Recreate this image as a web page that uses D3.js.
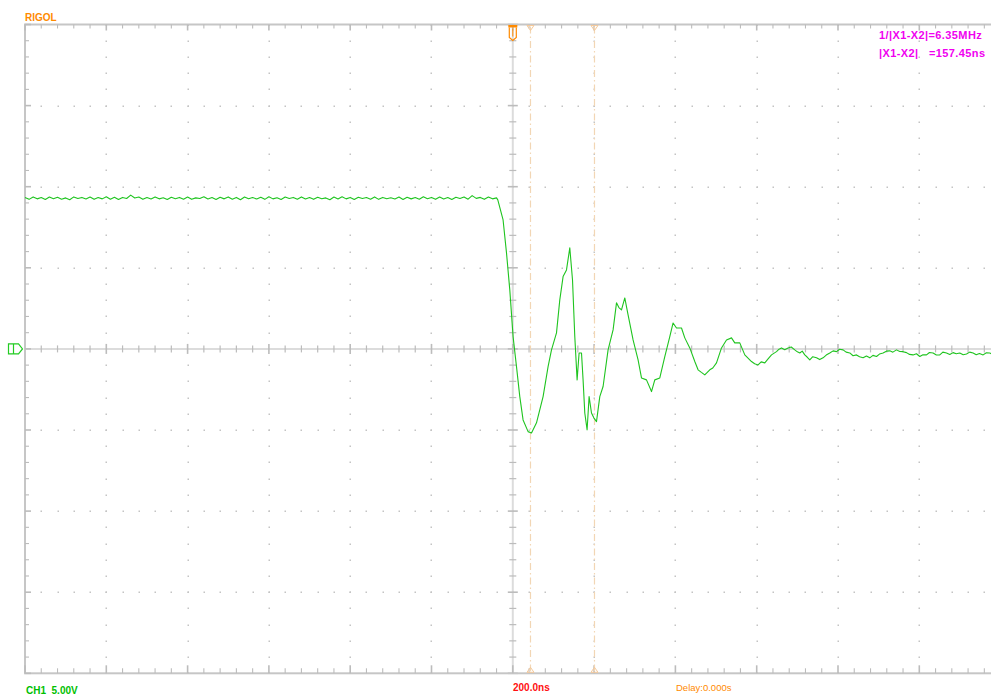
<!DOCTYPE html>
<html>
<head>
<meta charset="utf-8">
<script src="https://cdn.jsdelivr.net/npm/d3@7"></script>
<style>
  html, body { margin: 0; padding: 0; background: #fff; }
  svg { display: block; }
  text { font-family: "Liberation Sans", Arial, sans-serif; }
</style>
</head>
<body>
<svg id="scope" width="991" height="695"></svg>
<script>
// Screen settings: 200 ns/div horizontally, 5 V/div vertically
const timePerDivNs = 200;
const voltsPerDiv = 5;
const hDivs = 12;
const vDivs = 8;

// Cursor positions (ns) and readouts
const cursorX1Ns = 43.5;
const cursorDeltaNs = 157.45;
const cursorX2Ns = cursorX1Ns + cursorDeltaNs;
const readoutLabels = ["1/|X1-X2|=6.35MHz", "|X1-X2|   =157.45ns"];
const statusLabels = { channel: "CH1  5.00V", timebase: "200.0ns", delay: "Delay:0.000s", brand: "RIGOL" };

// CH1 trace, pre-trigger plateau: one sample every 10 ns starting at -1200 ns
const plateauStartNs = -1200;
const plateauStepNs = 10;
const plateauVolts = [
  9.34,9.22,9.37,9.25,9.33,9.21,9.36,9.26,9.35,9.23,
  9.31,9.20,9.37,9.27,9.34,9.24,9.36,9.22,9.33,9.25,
  9.38,9.23,9.35,9.21,9.34,9.27,9.48,9.30,9.36,9.22,
  9.33,9.24,9.37,9.25,9.32,9.21,9.35,9.26,9.34,9.23,
  9.36,9.22,9.31,9.27,9.38,9.24,9.33,9.21,9.35,9.25,
  9.37,9.23,9.34,9.20,9.36,9.26,9.33,9.24,9.35,9.22,
  9.38,9.25,9.32,9.21,9.36,9.27,9.34,9.23,9.37,9.24,
  9.33,9.22,9.35,9.26,9.31,9.20,9.36,9.24,9.38,9.25,
  9.34,9.21,9.35,9.27,9.33,9.23,9.37,9.22,9.34,9.26,
  9.32,9.24,9.36,9.21,9.35,9.25,9.33,9.23,9.38,9.26,
  9.34,9.22,9.36,9.24,9.33,9.21,9.35,9.27,9.37,9.23,
  9.45,9.28,9.34,9.22,9.36,9.25,9.31
];

// CH1 trace after the falling edge: times (ns) and volts
const ringTimesNs = [
  -36.9,-23.9,-15.5,-7.4,0.7,9.1,17.2,25.3,37.6,46.0,
  58.3,74.5,86.8,95.2,107.5,115.6,123.7,132.1,140.2,146.9,
  152.5,158.2,163.1,169.0,172.9,177.1,182.8,187.7,193.6,199.3,
  205.9,214.0,222.1,234.4,246.7,255.1,261.0,267.4,275.5,283.6,
  295.9,308.2,316.6,328.9,341.2,349.3,361.6,373.9,386.2,394.3,
  402.7,415.0,423.1,435.4,447.7,455.8,464.0,472.3,484.6,492.0,
  501.1,513.4,525.7,538.0,546.1,558.4,570.7,587.2,595.0,603.4,
  611.0,619.9,628.0,636.4,648.7,655.0,661.0,669.0,677.2,685.0,
  693.7,700.0,706.0,712.0,718.3,724.0,730.6,738.0,747.1,755.0,
  763.3,771.0,779.8,788.0,796.3,804.0,812.5,820.0,829.0,837.0,
  845.5,853.0,861.7,870.0,878.2,886.0,894.7,902.0,910.9,919.0,
  927.4,935.0,943.9,952.0,960.1,968.5,976.0,984.7,993.0,1001.2,
  1009.0,1017.7,1025.0,1033.9,1042.0,1050.4,1058.0,1066.9,1075.0,1083.1,
  1091.0,1099.6,1108.0,1116.1,1124.0,1132.4,1140.0,1148.0,1157.0,1165.0,
  1173.4,1181.0,1190.0,1200.0
];
const ringVolts = [
  9.19,7.95,5.92,3.64,0.76,-1.09,-2.94,-4.38,-5.10,-5.18,
  -4.56,-2.94,-1.09,-0.06,0.99,3.02,4.46,4.87,6.23,4.25,
  0.76,-1.91,-0.25,-0.25,-1.91,-3.95,-4.99,-2.94,-3.95,-4.25,
  -4.48,-2.94,-2.32,-0.06,1.17,2.84,2.55,2.40,3.14,2.10,
  0.55,-0.68,-1.79,-1.91,-2.63,-1.91,-1.79,-0.47,0.76,1.60,
  1.29,1.29,0.68,0.06,-0.78,-1.29,-1.45,-1.60,-1.29,-1.18,
  -0.86,0.06,0.55,0.68,0.37,0.37,-0.37,-0.78,-0.92,-0.99,
  -0.80,-0.86,-0.62,-0.37,-0.17,-0.02,0.06,-0.05,0.06,0.12,
  -0.06,-0.18,-0.25,-0.14,-0.37,-0.50,-0.68,-0.48,-0.55,-0.66,
  -0.55,-0.38,-0.25,-0.12,-0.17,-0.02,-0.06,-0.20,-0.25,-0.42,
  -0.37,-0.48,-0.55,-0.44,-0.55,-0.40,-0.47,-0.32,-0.25,-0.14,
  -0.12,-0.20,-0.06,-0.16,-0.17,-0.23,-0.34,-0.37,-0.30,-0.47,
  -0.36,-0.37,-0.22,-0.25,-0.38,-0.37,-0.20,-0.25,-0.34,-0.23,
  -0.30,-0.25,-0.36,-0.31,-0.20,-0.25,-0.36,-0.28,-0.37,-0.24,
  -0.25,-0.34,-0.27,-0.30
];

// Colours
const colBorder = "#c6c6c6";
const colGridDot = "#c4c4c4";
const colCenter = "#dcdcdc";
const colTick = "#bcbcbc";
const colTrace = "#1fc41f";
const colCursor = "#f2d6b4";
const colOrange = "#ff8a00";
const colMagenta = "#f000f0";

const svg = d3.select("#scope");
svg.append("rect").attr("width", 991).attr("height", 695).attr("fill", "#fff");

const x = d3.scaleLinear()
  .domain([-timePerDivNs * hDivs / 2, timePerDivNs * hDivs / 2])
  .range([25, 25 + 81.3 * hDivs]);
const y = d3.scaleLinear()
  .domain([-voltsPerDiv * vDivs / 2, voltsPerDiv * vDivs / 2])
  .range([673.3, 24.5]);

const [t0, t1] = x.domain();
const [v0, v1] = y.domain();
const minorT = d3.range(t0, t1 + 1e-6, timePerDivNs / 5);
const minorV = d3.range(v0, v1 + 1e-6, voltsPerDiv / 5);
const majorT = d3.range(t0 + timePerDivNs, t1 - 1e-6, timePerDivNs);
const majorV = d3.range(v0 + voltsPerDiv, v1 - 1e-6, voltsPerDiv);
const isMajorT = t => Math.abs(Math.round(t / timePerDivNs) * timePerDivNs - t) < 1e-6;
const isMajorV = v => Math.abs(Math.round(v / voltsPerDiv) * voltsPerDiv - v) < 1e-6;

// Dotted graticule: dots along every major line at each minor step
const grid = svg.append("g");
majorT.filter(t => t !== 0).forEach(t => {
  minorV.forEach(v => {
    grid.append("rect").attr("x", Math.round(x(t)) - 0.5).attr("y", Math.round(y(v)) - 0.5)
      .attr("width", 1.5).attr("height", 1.5).attr("fill", colGridDot);
  });
});
majorV.filter(v => v !== 0).forEach(v => {
  minorT.forEach(t => {
    grid.append("rect").attr("x", Math.round(x(t)) - 0.5).attr("y", Math.round(y(v)) - 0.5)
      .attr("width", 1.5).attr("height", 1.5).attr("fill", colGridDot);
  });
});

// Centre axes with minor tick marks
const axes = svg.append("g");
axes.append("line").attr("x1", x(t0)).attr("x2", x(t1)).attr("y1", y(0)).attr("y2", y(0))
  .attr("stroke", colCenter).attr("stroke-width", 2);
axes.append("line").attr("x1", x(0)).attr("x2", x(0)).attr("y1", y(v1)).attr("y2", y(v0))
  .attr("stroke", colCenter).attr("stroke-width", 2);
minorT.forEach(t => {
  const h = isMajorT(t) ? 5 : 3.5;
  axes.append("line").attr("x1", x(t)).attr("x2", x(t)).attr("y1", y(0) - h).attr("y2", y(0) + h)
    .attr("stroke", colTick).attr("stroke-width", isMajorT(t) ? 1.6 : 1.2);
});
minorV.forEach(v => {
  const h = isMajorV(v) ? 5 : 3.5;
  axes.append("line").attr("x1", x(0) - h).attr("x2", x(0) + h).attr("y1", y(v)).attr("y2", y(v))
    .attr("stroke", colTick).attr("stroke-width", isMajorV(v) ? 1.6 : 1.2);
});

// Frame with edge ticks
const frame = svg.append("g");
frame.append("rect").attr("x", x(t0)).attr("y", y(v1)).attr("width", x(t1) - x(t0)).attr("height", y(v0) - y(v1))
  .attr("fill", "none").attr("stroke", colBorder).attr("stroke-width", 2);
minorT.forEach(t => {
  const maj = isMajorT(t);
  frame.append("line").attr("x1", x(t)).attr("x2", x(t)).attr("y1", y(v1)).attr("y2", y(v1) + (maj ? 6 : 4))
    .attr("stroke", colTick).attr("stroke-width", maj ? 1.6 : 1.1);
  frame.append("line").attr("x1", x(t)).attr("x2", x(t)).attr("y1", y(v0)).attr("y2", y(v0) - (maj ? 8 : 5))
    .attr("stroke", colTick).attr("stroke-width", maj ? 1.6 : 1.1);
});
minorV.forEach(v => {
  const maj = isMajorV(v);
  frame.append("line").attr("x1", x(t0)).attr("x2", x(t0) + (maj ? 6 : 4)).attr("y1", y(v)).attr("y2", y(v))
    .attr("stroke", colTick).attr("stroke-width", maj ? 1.6 : 1.1);
});

// Cursors: dash-dot verticals with small triangle markers
const cursors = svg.append("g");
[cursorX1Ns, cursorX2Ns].forEach(t => {
  const cx = x(t);
  cursors.append("line").attr("x1", cx).attr("x2", cx).attr("y1", y(v1) + 2).attr("y2", y(v0) - 2)
    .attr("stroke", colCursor).attr("stroke-width", 1.2).attr("stroke-dasharray", "7,3,1.5,3");
  cursors.append("path").attr("d", `M${cx - 3.5},${y(v1) + 1}L${cx + 3.5},${y(v1) + 1}L${cx},${y(v1) + 6}Z`)
    .attr("fill", "none").attr("stroke", "#f5c99a").attr("stroke-width", 1);
  cursors.append("path").attr("d", `M${cx - 3.5},${y(v0) - 1}L${cx + 3.5},${y(v0) - 1}L${cx},${y(v0) - 6}Z`)
    .attr("fill", "none").attr("stroke", "#f5c99a").attr("stroke-width", 1);
});

// CH1 trace
const samples = plateauVolts.map((v, i) => [plateauStartNs + i * plateauStepNs, v])
  .concat(ringTimesNs.map((t, i) => [t, ringVolts[i]]));
svg.append("path").datum(samples)
  .attr("d", d3.line().x(d => x(d[0])).y(d => y(d[1])))
  .attr("fill", "none").attr("stroke", colTrace).attr("stroke-width", 1.1)
  .attr("stroke-linejoin", "round");

// Trigger position marker at the top
const tx = x(0);
const trig = svg.append("g");
trig.append("rect").attr("x", tx - 4.5).attr("y", y(v1) + 0.5).attr("width", 9).attr("height", 2.5).attr("fill", colOrange);
trig.append("path").attr("d", `M${tx - 3.5},${y(v1) + 3}V${y(v1) + 13}L${tx},${y(v1) + 16}L${tx + 3.5},${y(v1) + 13}V${y(v1) + 3}`)
  .attr("fill", "none").attr("stroke", colOrange).attr("stroke-width", 1.2);
trig.append("line").attr("x1", tx).attr("x2", tx).attr("y1", y(v1) + 4).attr("y2", y(v1) + 12)
  .attr("stroke", colOrange).attr("stroke-width", 1);

// Channel 1 ground reference marker on the left
const gy = y(0);
const gnd = svg.append("g");
gnd.append("path").attr("d", `M8.5,${gy - 5}H18.5L22.5,${gy}L18.5,${gy + 5}H8.5Z`)
  .attr("fill", "none").attr("stroke", "#22cc22").attr("stroke-width", 1.2);
gnd.append("line").attr("x1", 13.5).attr("x2", 13.5).attr("y1", gy - 5).attr("y2", gy + 5)
  .attr("stroke", "#22cc22").attr("stroke-width", 1.2);

// Labels
svg.append("text").attr("x", 25).attr("y", 20.5).text(statusLabels.brand)
  .attr("fill", colOrange).attr("font-size", 10).attr("font-weight", "bold");
svg.append("text").attr("x", 879).attr("y", 39).text(readoutLabels[0])
  .attr("fill", colMagenta).attr("font-size", 11).attr("font-weight", "bold")
  .attr("letter-spacing", 0.4);
svg.append("text").attr("x", 879).attr("y", 57).text(readoutLabels[1])
  .attr("fill", colMagenta).attr("font-size", 11).attr("font-weight", "bold")
  .attr("letter-spacing", 0.4).style("white-space", "pre");
svg.append("text").attr("x", 26).attr("y", 693.5).text(statusLabels.channel)
  .attr("fill", "#00c000").attr("font-size", 10).attr("font-weight", "bold").style("white-space", "pre");
svg.append("text").attr("x", 513).attr("y", 691).text(statusLabels.timebase)
  .attr("fill", "#ff1010").attr("font-size", 10).attr("font-weight", "bold");
svg.append("text").attr("x", 676).attr("y", 691).text(statusLabels.delay)
  .attr("fill", colOrange).attr("font-size", 9.5);
</script>
</body>
</html>
